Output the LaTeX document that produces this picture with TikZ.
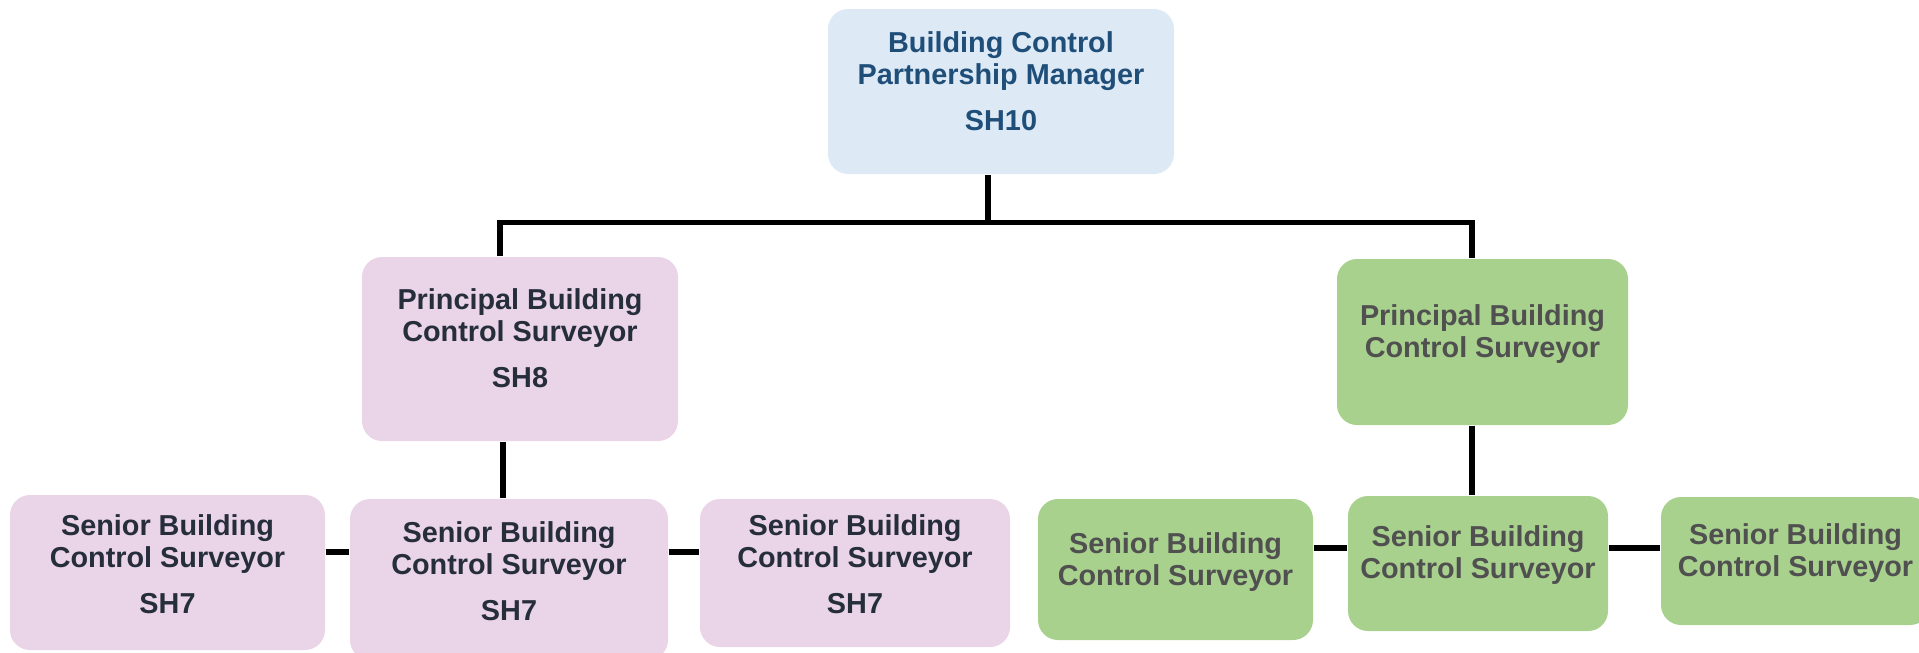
\documentclass[tikz,border=0pt]{standalone}
\usepackage{fontspec}
\setmainfont{Liberation Sans}
\usetikzlibrary{positioning}
\definecolor{mgrfill}{RGB}{221,234,246}
\definecolor{mgrink}{RGB}{31,78,121}
\definecolor{pinkfill}{RGB}{234,212,232}
\definecolor{pinkink}{RGB}{38,46,59}
\definecolor{greenfill}{RGB}{169,209,142}
\definecolor{greenink}{RGB}{80,80,80}
\tikzset{
  post/.style={
	rectangle, rounded corners=2mm, % the boxes of the chart
	inner sep=0pt, % size is given by minimum width and height
  },
  mgrbox/.style={post, fill=mgrfill},
  pinkbox/.style={post, fill=pinkfill},
  greenbox/.style={post, fill=greenfill},
  title/.style={
	inner sep=0pt, align=center, % text hangs from the top of its box
	font=\bfseries\fontsize{8.2pt}{9pt}\selectfont,
  },
  link/.style={draw=black, line width=1.5pt},
}

\begin{document}
\begin{tikzpicture}
\useasboundingbox (0,0) rectangle (19.19,-6.52);

% boxes
\node[mgrbox, minimum width=3.46cm, minimum height=1.65cm] (mgr) at (10.01,-0.915) {};
\node[pinkbox, minimum width=3.16cm, minimum height=1.84cm] (pbcsA) at (5.20,-3.49) {};
\node[greenbox, minimum width=2.91cm, minimum height=1.66cm] (pbcsB) at (14.825,-3.42) {};
\node[pinkbox, minimum width=3.15cm, minimum height=1.55cm] (sbcsA1) at (1.675,-5.725) {};
\node[pinkbox, minimum width=3.18cm, minimum height=1.61cm] (sbcsA2) at (5.09,-5.795) {};
\node[pinkbox, minimum width=3.10cm, minimum height=1.48cm] (sbcsA3) at (8.55,-5.73) {};
\node[greenbox, minimum width=2.75cm, minimum height=1.41cm] (sbcsB1) at (11.755,-5.695) {};
\node[greenbox, minimum width=2.60cm, minimum height=1.35cm] (sbcsB2) at (14.78,-5.635) {};
\node[greenbox, minimum width=2.69cm, minimum height=1.28cm] (sbcsB3) at (17.955,-5.61) {};

% texts
\node[title, text=mgrink, below=0.23cm of mgr.north] (mgrT) {Building Control\\Partnership Manager\\[4pt]SH10};
\node[title, text=pinkink, below=0.32cm of pbcsA.north] (pbcsAT) {Principal Building\\Control Surveyor\\[4pt]SH8};
\node[title, text=greenink, below=0.46cm of pbcsB.north] (pbcsBT) {Principal Building\\Control Surveyor};
\node[title, text=pinkink, below=0.20cm of sbcsA1.north] (sbcsA1T) {Senior Building\\Control Surveyor\\[4pt]SH7};
\node[title, text=pinkink, below=0.23cm of sbcsA2.north] (sbcsA2T) {Senior Building\\Control Surveyor\\[4pt]SH7};
\node[title, text=pinkink, below=0.16cm of sbcsA3.north] (sbcsA3T) {Senior Building\\Control Surveyor\\[4pt]SH7};
\node[title, text=greenink, below=0.34cm of sbcsB1.north] (sbcsB1T) {Senior Building\\Control Surveyor};
\node[title, text=greenink, below=0.30cm of sbcsB2.north] (sbcsB2T) {Senior Building\\Control Surveyor};
\node[title, text=greenink, below=0.27cm of sbcsB3.north] (sbcsB3T) {Senior Building\\Control Surveyor};

% connectors
\coordinate (busM) at (9.88,-2.225);
\coordinate (busL) at (5.00,-2.225);
\coordinate (busR) at (14.72,-2.225);
\coordinate (tapA) at (5.03,0);
\coordinate (rowA) at (0,-5.52);
\coordinate (rowB) at (0,-5.48);

\draw[link] (mgr.south -| busM) -- (busM);
\draw[link] (pbcsA.north -| busL) -- (busL) -- (busR) -- (pbcsB.north -| busR);
\draw[link] (pbcsA.south -| tapA) -- (sbcsA2.north -| tapA);
\draw[link] (pbcsB.south -| busR) -- (sbcsB2.north -| busR);
\draw[link] (sbcsA1.east |- rowA) -- (sbcsA2.west |- rowA);
\draw[link] (sbcsA2.east |- rowA) -- (sbcsA3.west |- rowA);
\draw[link] (sbcsB1.east |- rowB) -- (sbcsB2.west |- rowB);
\draw[link] (sbcsB2.east |- rowB) -- (sbcsB3.west |- rowB);
\end{tikzpicture}
\end{document}
